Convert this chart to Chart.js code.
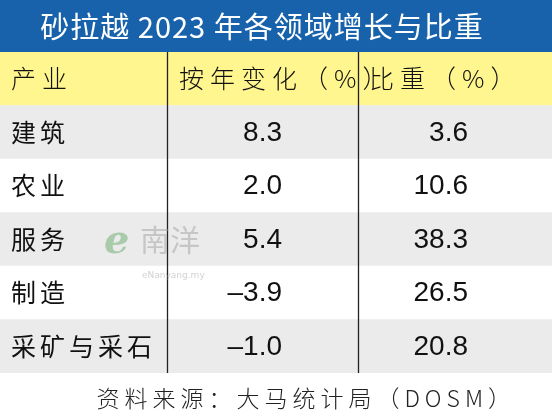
<!DOCTYPE html>
<html><head><meta charset="utf-8">
<script src="https://cdn.jsdelivr.net/npm/chart.js@4"></script>
<style>html,body{margin:0;padding:0;background:#fff}#w{width:552px;height:416px}</style>
</head><body><div id="w"><canvas id="c"></canvas></div>
<script>
const title = '砂拉越 2023 年各领域增长与比重';
const headers = ['产业', '按年变化（%）', '比重（%）'];
const sectors = ['建筑', '农业', '服务', '制造', '采矿与采石'];
const yoyChange = ['8.3', '2.0', '5.4', '–3.9', '–1.0'];
const share = ['3.6', '10.6', '38.3', '26.5', '20.8'];
const source = '资料来源：大马统计局（DOSM）';

const rowLabels = ['header', ...sectors];
const rowColors = ['#fff68f', '#ebebeb', '#ffffff', '#ebebeb', '#ffffff', '#ebebeb'];
const colEdges = [0, 167, 358, 552];

const tablePlugin = {
  id: 'table',
  beforeDraw(chart) {
    const ctx = chart.ctx;
    ctx.save();
    ctx.fillStyle = '#ffffff';
    ctx.fillRect(0, 0, chart.width, chart.height);
    ctx.fillStyle = '#1762ab';
    ctx.fillRect(0, 0, chart.width, chart.chartArea.top);
    ctx.restore();
  },
  afterDraw(chart) {
    const ctx = chart.ctx, x = chart.scales.x, y = chart.scales.y;
    const top = chart.chartArea.top, bottom = chart.chartArea.bottom;
    ctx.save();
    ctx.fillStyle = '#ffffff';
    ctx.font = '400 29px "Noto Sans CJK SC"';
    ctx.letterSpacing = '1px';
    ctx.textAlign = 'center'; ctx.textBaseline = 'middle';
    ctx.fillText(title, 262, top / 2 + 1);
    ctx.strokeStyle = '#222'; ctx.lineWidth = 1.3;
    [colEdges[1], colEdges[2]].forEach(v => {
      const px = Math.round(x.getPixelForValue(v)) + 0.5;
      ctx.beginPath(); ctx.moveTo(px, top); ctx.lineTo(px, bottom); ctx.stroke();
    });
    ctx.fillStyle = '#111';
    ctx.textBaseline = 'middle';
    const hy = y.getPixelForValue(0);
    ctx.font = '300 25px "Noto Sans CJK SC"';
    ctx.letterSpacing = '6px';
    ctx.textAlign = 'left';
    ctx.fillText(headers[0], x.getPixelForValue(colEdges[0]) + 11, hy);
    ctx.fillText(headers[1], x.getPixelForValue(colEdges[1]) + 12, hy);
    ctx.fillText(headers[2], x.getPixelForValue(colEdges[2]) + 11, hy);
    sectors.forEach((s, i) => {
      const py = y.getPixelForValue(i + 1);
      ctx.textAlign = 'left';
      ctx.letterSpacing = '4px';
      ctx.font = '400 25px "Noto Sans CJK SC"';
      ctx.fillText(s, x.getPixelForValue(colEdges[0]) + 11, py);
      ctx.letterSpacing = '0px';
      ctx.textAlign = 'right';
      ctx.font = '400 28px "Liberation Sans"';
      ctx.fillText(yoyChange[i], x.getPixelForValue(colEdges[1]) + 115, py + 1);
      ctx.fillText(share[i], x.getPixelForValue(colEdges[2]) + 110, py + 1);
    });
    ctx.globalAlpha = 0.45;
    ctx.fillStyle = '#5aa55a';
    ctx.font = 'italic 700 40px "DejaVu Serif"';
    ctx.textAlign = 'left';
    ctx.fillText('e', 104, 243);
    ctx.fillStyle = '#999';
    ctx.font = '400 30px "Noto Sans CJK SC"';
    ctx.fillText('南洋', 140, 240);
    ctx.font = '9px "DejaVu Sans"';
    ctx.fillText('eNanyang.my', 142, 276);
    ctx.globalAlpha = 1;
    ctx.fillStyle = '#222';
    ctx.font = '300 23px "Noto Sans CJK SC"';
    ctx.letterSpacing = '5px';
    ctx.textAlign = 'right';
    ctx.fillText(source, 516, bottom + 25);
    ctx.restore();
  }
};

new Chart(document.getElementById('c'), {
  type: 'bar',
  data: {
    labels: rowLabels,
    datasets: [{
      data: rowLabels.map(() => [colEdges[0], colEdges[3]]),
      backgroundColor: rowColors,
      borderWidth: 0,
      barPercentage: 1,
      categoryPercentage: 1
    }]
  },
  options: {
    indexAxis: 'y',
    responsive: true, maintainAspectRatio: false, animation: false,
    devicePixelRatio: 1,
    layout: { padding: { top: 52, bottom: 43, left: 0, right: 0 } },
    plugins: { legend: { display: false }, tooltip: { enabled: false }, title: { display: false } },
    scales: {
      x: { type: 'linear', min: colEdges[0], max: colEdges[3], display: false },
      y: { type: 'category', display: false, grid: { display: false } }
    }
  },
  plugins: [tablePlugin]
});
</script></body></html>
